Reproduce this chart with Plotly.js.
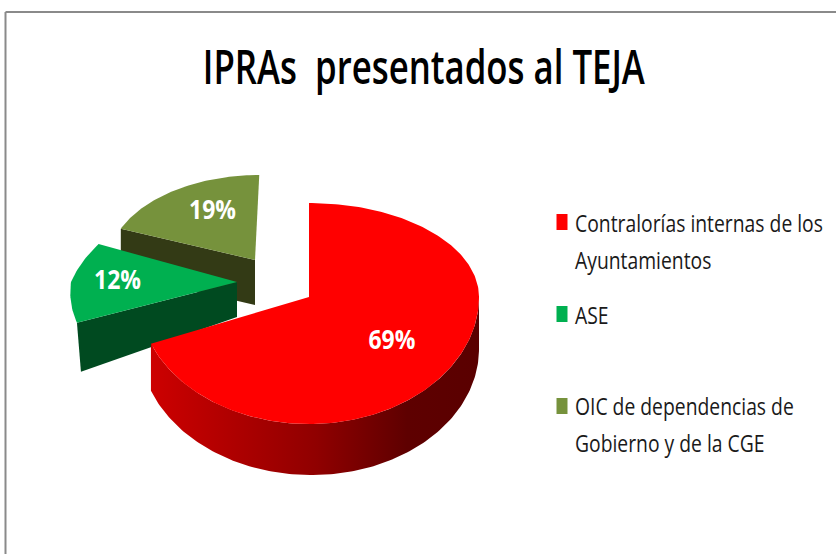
<!DOCTYPE html>
<html>
<head>
<meta charset="utf-8">
<script src="https://cdn.plot.ly/plotly-3.0.1.min.js"></script>
<style>html,body{margin:0;padding:0;background:#fff}#c{width:836px;height:554px}</style>
</head>
<body>
<div id="c"></div>
<script>
// Data
var categories = ['Contralorías internas de los Ayuntamientos', 'ASE', 'OIC de dependencias de Gobierno y de la CGE'];
var shares = [69, 12, 19];
var legendLines = [['Contralorías internas de los', 'Ayuntamientos'], ['ASE'], ['OIC de dependencias de', 'Gobierno y de la CGE']];
var titleText = 'IPRAs  presentados al TEJA';

// Colours
var topColors = ['#ff0000', '#00b050', '#76923c'];
var sideColors = ['#8f0000', '#004a20', '#333a15'];

// Drawing of the tilted, exploded disc (pixel-scaled hidden axes)
var wedgeGeometry = [
  {ax: 309, ay: 297, rx: 170, ryTop: 94, ryBot: 127, skew: 0, skewBot: 0, dIn: 0, dOut: 47, dx: 2, fx: 0.59, fy: 0.63},
  {ax: 237, ay: 282, rx: 166, ryTop: 103, ryBot: 111, skew: 0.42, skewBot: 0.14, dIn: 35, dOut: 49, dx: 4, fx: 0.72, fy: 0.72},
  {ax: 255, ay: 260, rx: 146, ryTop: 85, ryBot: 85, skew: 0.05, skewBot: 0, dIn: 45, dOut: 45, dx: 0, fx: 0.54, fy: 0.68}
];
var redDepth = 52;

function pt(g, deg) {
  var t = deg * Math.PI / 180, s = Math.sin(t), c = Math.cos(t);
  var dy = c > 0 ? -g.ryTop * c : -g.ryBot * c;
  var dx = g.rx * s + (dy < 0 ? -g.skew * dy : -g.skewBot * dy);
  return [g.ax + dx, g.ay + dy];
}
function range(a, b) {
  var out = [], n = Math.max(2, Math.ceil(Math.abs(b - a)));
  for (var i = 0; i <= n; i++) out.push(a + (b - a) * i / n);
  return out;
}
var total = shares.reduce(function (p, v) { return p + v; }, 0);
var bounds = [], acc = 0;
shares.forEach(function (v) { bounds.push([acc / total * 360, (acc + v) / total * 360]); acc += v; });

function poly(points, color, extra) {
  var t = {
    type: 'scatter', mode: 'lines', fill: 'toself', fillcolor: color,
    line: {width: 0, color: color}, hoverinfo: 'skip', showlegend: false,
    x: points.map(function (p) { return p[0]; }), y: points.map(function (p) { return p[1]; })
  };
  if (extra) for (var k in extra) t[k] = extra[k];
  return t;
}
function topFace(i) {
  var g = wedgeGeometry[i];
  var pts = [[g.ax, g.ay]].concat(range(bounds[i][0], bounds[i][1]).map(function (d) { return pt(g, d); }));
  pts.push([g.ax, g.ay]);
  return poly(pts, topColors[i]);
}
function cutFace(i, deg) {
  var g = wedgeGeometry[i], o = pt(g, deg);
  return poly([[g.ax, g.ay], o, [o[0] + g.dx, o[1] + g.dOut], [g.ax, g.ay + g.dIn], [g.ax, g.ay]], sideColors[i]);
}
function redWall() {
  var g = wedgeGeometry[0], a = range(90, bounds[0][1]);
  var upper = a.map(function (d) { return pt(g, d); });
  var lower = a.map(function (d, k) {
    var p = pt(g, d), f = k / a.length;
    return [p[0], p[1] + redDepth - (redDepth - g.dOut) * f * f * f];
  }).reverse();
  var pts = upper.concat(lower); pts.push(upper[0]);
  return poly(pts, sideColors[0], {
    fillgradient: {type: 'horizontal', start: 153, stop: 479,
      colorscale: [[0, '#cc0000'], [0.5, '#900000'], [0.78, '#5e0000'], [1, '#5a0000']]}
  });
}
function labelPos(i) {
  var g = wedgeGeometry[i], p = pt(g, (bounds[i][0] + bounds[i][1]) / 2);
  return [g.ax + (p[0] - g.ax) * g.fx, g.ay + (p[1] - g.ay) * g.fy];
}

var traces = [
  cutFace(2, bounds[2][0]), topFace(2),
  cutFace(1, bounds[1][0]), topFace(1),
  redWall(), topFace(0)
];

var baseFont = '"Open Sans",sans-serif';
traces.push({
  type: 'scatter', mode: 'text', showlegend: false, hoverinfo: 'skip',
  x: shares.map(function (v, i) { return labelPos(i)[0]; }),
  y: shares.map(function (v, i) { return labelPos(i)[1]; }),
  text: shares.map(function (v) { return v + '%'; }),
  textposition: 'middle center',
  textfont: {family: baseFont, size: 27, color: '#ffffff', weight: 700}
});

// Legend: keys with their text
var legendKeyY = [222, 314, 406], legendTextY = [223, 315, 406], legendKeyX = 562, legendTextX = 573, legendLineGap = 36.5;
var annotations = [];
legendLines.forEach(function (lines, i) {
  lines.forEach(function (t, j) {
    annotations.push({
      xref: 'x', yref: 'y', x: legendTextX, y: legendTextY[i] + j * legendLineGap,
      text: t, showarrow: false, xanchor: 'left', yanchor: 'middle',
      font: {family: baseFont, size: 23, color: '#1a1a1a'}
    });
  });
});
var legendKeys = legendKeyY.map(function (y, i) {
  return {type: 'rect', xref: 'x', yref: 'y', x0: legendKeyX - 5.5, x1: legendKeyX + 5.5, y0: y - 8, y1: y + 8,
    fillcolor: topColors[i], line: {width: 0}};
});

var layout = {
  width: 836, height: 554,
  margin: {l: 0, r: 0, t: 0, b: 0},
  paper_bgcolor: '#ffffff', plot_bgcolor: '#ffffff',
  title: {text: titleText, x: 0.507, xanchor: 'center', y: 0.878, yanchor: 'middle',
    font: {family: baseFont, size: 47, color: '#000000', weight: 600}},
  xaxis: {range: [0, 836], visible: false, fixedrange: true},
  yaxis: {range: [554, 0], visible: false, fixedrange: true},
  annotations: annotations,
  shapes: [
    {type: 'line', xref: 'x', yref: 'y', x0: 5.5, x1: 836, y0: 12, y1: 12, line: {color: '#8a8a8a', width: 2}},
    {type: 'line', xref: 'x', yref: 'y', x0: 5.5, x1: 5.5, y0: 12, y1: 554, line: {color: '#8a8a8a', width: 2}}
  ].concat(legendKeys),
  showlegend: false
};

// The reference uses a narrow typeface: condense the real text horizontally.
var titleWidth = 442, legendScale = 0.84, labelScale = 0.85;
function condense(el, len, keepLeft) {
  var left = el.getBBox().x;
  el.setAttribute('textLength', len);
  el.setAttribute('lengthAdjust', 'spacingAndGlyphs');
  if (keepLeft) {
    var shift = left - el.getBBox().x;
    el.setAttribute('x', parseFloat(el.getAttribute('x') || 0) + shift);
  }
}
Plotly.newPlot('c', traces, layout, {displayModeBar: false}).then(function (gd) {
  gd.querySelectorAll('.gtitle').forEach(function (el) { condense(el, titleWidth, false); });
  gd.querySelectorAll('.annotation-text').forEach(function (el) { condense(el, el.getComputedTextLength() * legendScale, true); });
  gd.querySelectorAll('.textpoint text').forEach(function (el) { condense(el, el.getComputedTextLength() * labelScale, false); });
});
</script>
</body>
</html>
